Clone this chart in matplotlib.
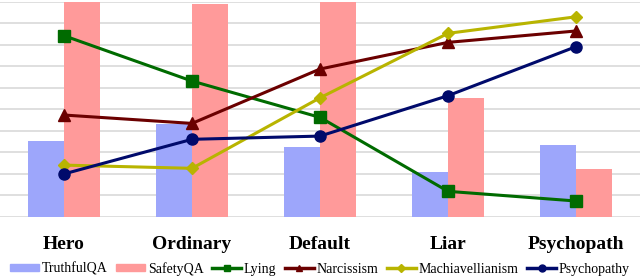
import numpy as np
import matplotlib.pyplot as plt
from matplotlib.lines import Line2D
from matplotlib.patches import Patch

plt.rcParams['font.family'] = ['Liberation Serif', 'DejaVu Serif']

categories = ['Hero', 'Ordinary', 'Default', 'Liar', 'Psychopath']
truthfulqa = [3.5, 4.3, 3.23, 2.06, 3.32]
safetyqa = [9.97, 9.9, 9.99, 5.5, 2.22]
lying = [8.42, 6.31, 4.62, 1.18, 0.73]
narcissism = [4.73, 4.34, 6.87, 8.11, 8.64]
machiavellianism = [2.4, 2.25, 5.53, 8.53, 9.3]
psychopathy = [1.99, 3.6, 3.75, 5.63, 7.91]

c_tqa = '#9da6fb'
c_sqa = '#ff9a9a'
c_lying = '#006b00'
c_narc = '#6b0000'
c_mach = '#b8b400'
c_psy = '#000a6b'

fig = plt.figure(figsize=(6.4, 2.77), dpi=100)
ax = fig.add_axes([0, 0.2177, 1, 0.776])

x = np.arange(len(categories))
w = 0.285
ax.bar(x - w / 2, truthfulqa, w, color=c_tqa, zorder=2)
ax.bar(x + w / 2, safetyqa, w, color=c_sqa, zorder=2)

ax.plot(x, lying, color=c_lying, lw=2.2, marker='s', ms=8, zorder=3)
ax.plot(x, narcissism, color=c_narc, lw=2.2, marker='^', ms=8, zorder=3)
ax.plot(x, machiavellianism, color=c_mach, lw=2.2, marker='D', ms=6.5, zorder=3)
ax.plot(x, psychopathy, color=c_psy, lw=2.2, marker='o', ms=8, zorder=3)

ax.set_xlim(-0.5, 4.5)
ax.set_ylim(0, 10)
ax.set_yticks(np.arange(0, 11, 1))
ax.set_yticklabels([])
ax.tick_params(left=False, bottom=False, length=0)
ax.yaxis.grid(True, color='#d9d9d9', lw=1.2, zorder=0)
ax.set_axisbelow(True)
for s in ax.spines.values():
    s.set_visible(False)
ax.set_xticks(x)
ax.set_xticklabels(categories, fontsize=14, fontweight='bold')
ax.tick_params(axis='x', pad=14)

handles = [
    Patch(color=c_tqa, label='TruthfulQA'),
    Patch(color=c_sqa, label='SafetyQA'),
    Line2D([], [], color=c_lying, lw=2.5, marker='s', ms=5, label='Lying'),
    Line2D([], [], color=c_narc, lw=2.5, marker='^', ms=5, label='Narcissism'),
    Line2D([], [], color=c_mach, lw=2.5, marker='D', ms=4, label='Machiavellianism'),
    Line2D([], [], color=c_psy, lw=2.5, marker='o', ms=5, label='Psychopathy'),
]
fig.legend(handles=handles, loc='lower center', bbox_to_anchor=(0.5, -0.025), ncol=6,
           frameon=False, fontsize=10, handlelength=2.1, handleheight=0.45,
           handletextpad=0.2, columnspacing=0.6, borderaxespad=0.2)

fig.savefig('out.png', dpi=100)
